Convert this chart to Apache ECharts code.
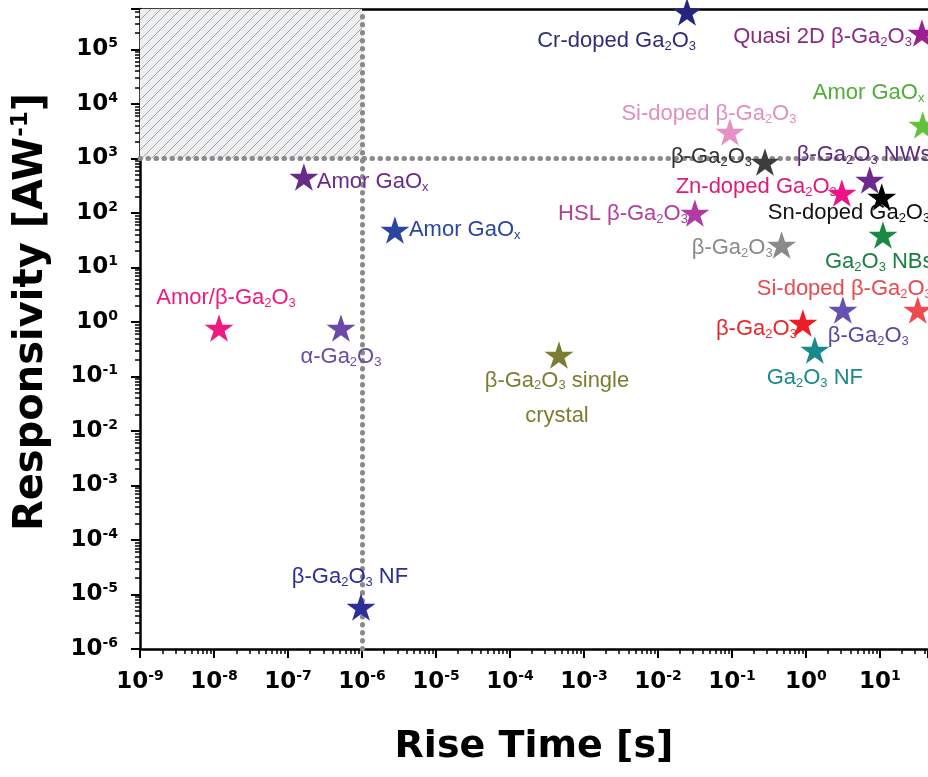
<!DOCTYPE html>
<html>
<head>
<meta charset="utf-8">
<title>Responsivity vs Rise Time</title>
<script src="https://cdn.jsdelivr.net/npm/echarts@6/dist/echarts.min.js"></script>
<style>
  html, body { margin: 0; padding: 0; background: #fff; }
  #chart { width: 928px; height: 777px; }
</style>
</head>
<body>
<div id="chart"></div>
<script>
// Device labels ("_" marks a one-character subscript)
const devices = [
  'Cr-doped Ga_2O_3', 'Quasi 2D β-Ga_2O_3', 'Amor GaO_x', 'Si-doped β-Ga_2O_3',
  'β-Ga_2O_3', 'β-Ga_2O_3 NWs', 'Zn-doped Ga_2O_3', 'Sn-doped Ga_2O_3',
  'HSL β-Ga_2O_3', 'β-Ga_2O_3', 'Ga_2O_3 NBs', 'Si-doped β-Ga_2O_3',
  'β-Ga_2O_3', 'β-Ga_2O_3', 'Ga_2O_3 NF', 'β-Ga_2O_3 single\ncrystal',
  'Amor GaO_x', 'Amor GaO_x', 'Amor/β-Ga_2O_3', 'α-Ga_2O_3', 'β-Ga_2O_3 NF'
];
// Rise time [s]
const riseTime = [
  0.0247, 37, 38, 0.094,
  0.28, 7.3, 3.06, 10.6,
  0.0316, 0.47, 11, 32.5,
  3.16, 0.91, 1.32, 4.6e-4,
  1.64e-7, 2.79e-6, 1.17e-8, 5.2e-7, 9.7e-7
];
// Responsivity [A/W]
const responsivity = [
  4.9e5, 2.0e5, 4100, 3060,
  862, 403, 233, 197,
  100, 25.9, 39.5, 1.66,
  1.66, 0.96, 0.306, 0.248,
  458, 48.8, 0.776, 0.776, 5.9e-6
];
// Marker colours
const starColors = [
  '#26247f', '#9a1f8f', '#62c23e', '#e491c6',
  '#3d3d3d', '#6b2a8c', '#ee1188', '#000000',
  '#b03ca3', '#8a8a8a', '#1a8a42', '#ee4a52',
  '#6650b0', '#ee1c24', '#168a8c', '#7b7d32',
  '#6a2a8a', '#2a46a0', '#ee1a80', '#6a4aa8', '#2e2e98'
];
// Label text colours
const labelColors = [
  '#2e2e78', '#8a2a80', '#4fae3a', '#e08fc0',
  '#333333', '#5e2a7e', '#e01a7c', '#111111',
  '#b0409a', '#8a8a8a', '#1a8040', '#e84a50',
  '#5a48a0', '#e82828', '#1a8a8a', '#7b7d32',
  '#6a2a8a', '#2a46a0', '#ee1a80', '#6a4aa8', '#2e2e98'
];
// Label anchor: [text alignment, dx, dy] relative to the marker centre (px)
const labelPlacement = [
  ['right', 9, 29], ['right', -10, 4], ['left', -110, -32], ['center', -21, -18],
  ['right', -13, -5], ['left', -73, -25], ['right', -5, -6], ['left', -114, 16],
  ['right', -7, 1], ['right', -9, 3], ['left', -58, 27], ['left', -161, -21],
  ['left', -15, 26], ['right', -6, 6], ['center', 0, 28], ['center', -2, 43],
  ['left', 13, 5], ['left', 14, 0], ['center', 7, -30], ['center', 0, 29], ['center', -11, -30]
];

// Axis ranges (the view ends just past 10^1 s) and the two thresholds
const xMin = 1e-9, xMax = 44.7;
const yMin = 1e-6, yMax = 5.53e5;
const riseTimeLimit = 1e-6;
const responsivityLimit = 1e3;

const STAR = 'path://M50,0 L61.2,34.5 L97.6,34.5 L68.2,55.9 L79.4,90.5 L50,69.1 L20.6,90.5 L31.8,55.9 L2.4,34.5 L38.8,34.5 Z';

// Convert "Ga_2O_3" markup into rich-text tokens
function toRich(text) {
  const multi = text.indexOf('\n') >= 0;
  const m = multi ? 'm2' : 'm', s = multi ? 's2' : 's';
  return text.split('\n').map(function (line) {
    let out = '', buf = '';
    for (let i = 0; i < line.length; i++) {
      if (line[i] === '_' && i + 1 < line.length) {
        if (buf) { out += '{' + m + '|' + buf + '}'; buf = ''; }
        out += '{' + s + '|' + line[i + 1] + '}';
        i++;
      } else {
        buf += line[i];
      }
    }
    if (buf) out += '{' + m + '|' + buf + '}';
    return out;
  }).join('\n');
}

const LABEL_FONT = '"Liberation Sans", Arial, sans-serif';
const AXIS_FONT = '"DejaVu Sans", sans-serif';
const labelRich = {
  m: { fontFamily: LABEL_FONT, fontSize: 22, lineHeight: 24 },
  s: { fontFamily: LABEL_FONT, fontSize: 13, lineHeight: 13, padding: [11, 0, 0, 0] },
  m2: { fontFamily: LABEL_FONT, fontSize: 22, lineHeight: 35 },
  s2: { fontFamily: LABEL_FONT, fontSize: 13, lineHeight: 13, padding: [16, 0, 6, 0] }
};

const starData = riseTime.map(function (t, i) {
  const pl = labelPlacement[i];
  return {
    value: [t, responsivity[i]],
    itemStyle: { color: starColors[i], opacity: 1 },
    label: {
      show: true,
      position: 'inside',
      align: pl[0],
      verticalAlign: 'middle',
      offset: [pl[1], pl[2]],
      color: labelColors[i],
      opacity: 1,
      formatter: toRich(devices[i]),
      rich: labelRich
    }
  };
});

// Powers-of-ten tick labels with superscript exponent
function powLabel(v) {
  const lg = Math.log10(v);
  const e = Math.round(lg);
  if (Math.abs(lg - e) > 1e-6) return '';
  return '{b|10}{p|' + e + '}';
}
const tickRich = {
  b: { fontFamily: AXIS_FONT, fontWeight: 'bold', fontSize: 23, lineHeight: 26, color: '#000' },
  p: { fontFamily: AXIS_FONT, fontWeight: 'bold', fontSize: 14, lineHeight: 14, padding: [0, 0, 12, 0], color: '#000' }
};

// Diagonal hatch fill for the target region
function hatchPattern() {
  const c = document.createElement('canvas');
  c.width = 10; c.height = 10;
  const g = c.getContext('2d');
  g.fillStyle = '#eceef0';
  g.fillRect(0, 0, 10, 10);
  g.strokeStyle = '#a2a2a2';
  g.lineWidth = 1;
  g.beginPath();
  g.moveTo(-1, 11); g.lineTo(11, -1);
  g.moveTo(-1, 1); g.lineTo(1, -1);
  g.moveTo(9, 11); g.lineTo(11, 9);
  g.stroke();
  return c;
}

const axisCommon = {
  type: 'log', logBase: 10, interval: 1,
  axisLine: { show: true, lineStyle: { color: '#000', width: 2.5 } },
  axisTick: { show: true, length: 9, lineStyle: { color: '#000', width: 2 } },
  minorTick: { show: true, splitNumber: 9, length: 5, lineStyle: { color: '#000', width: 1.5 } },
  splitLine: { show: false },
  minorSplitLine: { show: false }
};

const chart = echarts.init(document.getElementById('chart'), null, { renderer: 'canvas' });

chart.setOption({
  animation: false,
  backgroundColor: '#ffffff',
  grid: {
    left: 140, top: 9, right: 0, bottom: 128,
    show: false, containLabel: false, outerBoundsMode: 'none'
  },
  xAxis: [
    Object.assign({}, axisCommon, {
      min: xMin, max: xMax,
      name: 'Rise Time [s]',
      nameLocation: 'middle', nameGap: 79, nameMoveOverlap: false,
      nameTextStyle: {
        fontFamily: AXIS_FONT, fontWeight: 'bold', fontSize: 38, color: '#000',
        padding: [0, 0, 0, 0]
      },
      axisLabel: { margin: 20, formatter: powLabel, rich: tickRich }
    }),
    {
      // plain frame line along the top edge
      type: 'log', logBase: 10, min: xMin, max: xMax, position: 'top',
      axisLine: { show: true, lineStyle: { color: '#000', width: 2.5 } },
      axisTick: { show: false }, minorTick: { show: false },
      axisLabel: { show: false }, splitLine: { show: false }
    }
  ],
  yAxis: Object.assign({}, axisCommon, {
    min: yMin, max: yMax,
    name: '{t|Responsivity [AW}{sp|-1}{t|]}',
    nameLocation: 'middle', nameRotate: 90, nameGap: 87, nameMoveOverlap: false,
    nameTextStyle: {
      padding: [0, 0, 0, 34],
      rich: {
        t: { fontFamily: AXIS_FONT, fontWeight: 'bold', fontSize: 40, lineHeight: 42, color: '#000' },
        sp: { fontFamily: AXIS_FONT, fontWeight: 'bold', fontSize: 23, lineHeight: 21, padding: [0, 0, 21, 0], color: '#000' }
      }
    },
    axisLabel: { margin: 22, formatter: powLabel, rich: tickRich }
  }),
  series: [
    {
      type: 'scatter',
      symbol: STAR,
      symbolSize: 29,
      symbolKeepAspect: true,
      z: 5,
      emphasis: { disabled: true },
      data: starData,
      markArea: {
        silent: true,
        itemStyle: { color: { image: hatchPattern(), repeat: 'repeat' }, borderWidth: 0, opacity: 1 },
        label: { show: false },
        data: [[
          { coord: [xMin, responsivityLimit] },
          { coord: [riseTimeLimit, yMax] }
        ]]
      },
      markLine: {
        silent: true,
        symbol: ['none', 'none'],
        label: { show: false },
        lineStyle: { color: '#8a8a8a', width: 5, type: [0.5, 7.5], cap: 'round', opacity: 1 },
        emphasis: { disabled: true },
        data: [
          [{ coord: [riseTimeLimit, yMin] }, { coord: [riseTimeLimit, yMax] }],
          [{ coord: [xMin, responsivityLimit] }, { coord: [xMax, responsivityLimit] }]
        ]
      }
    }
  ]
});
</script>
</body>
</html>
